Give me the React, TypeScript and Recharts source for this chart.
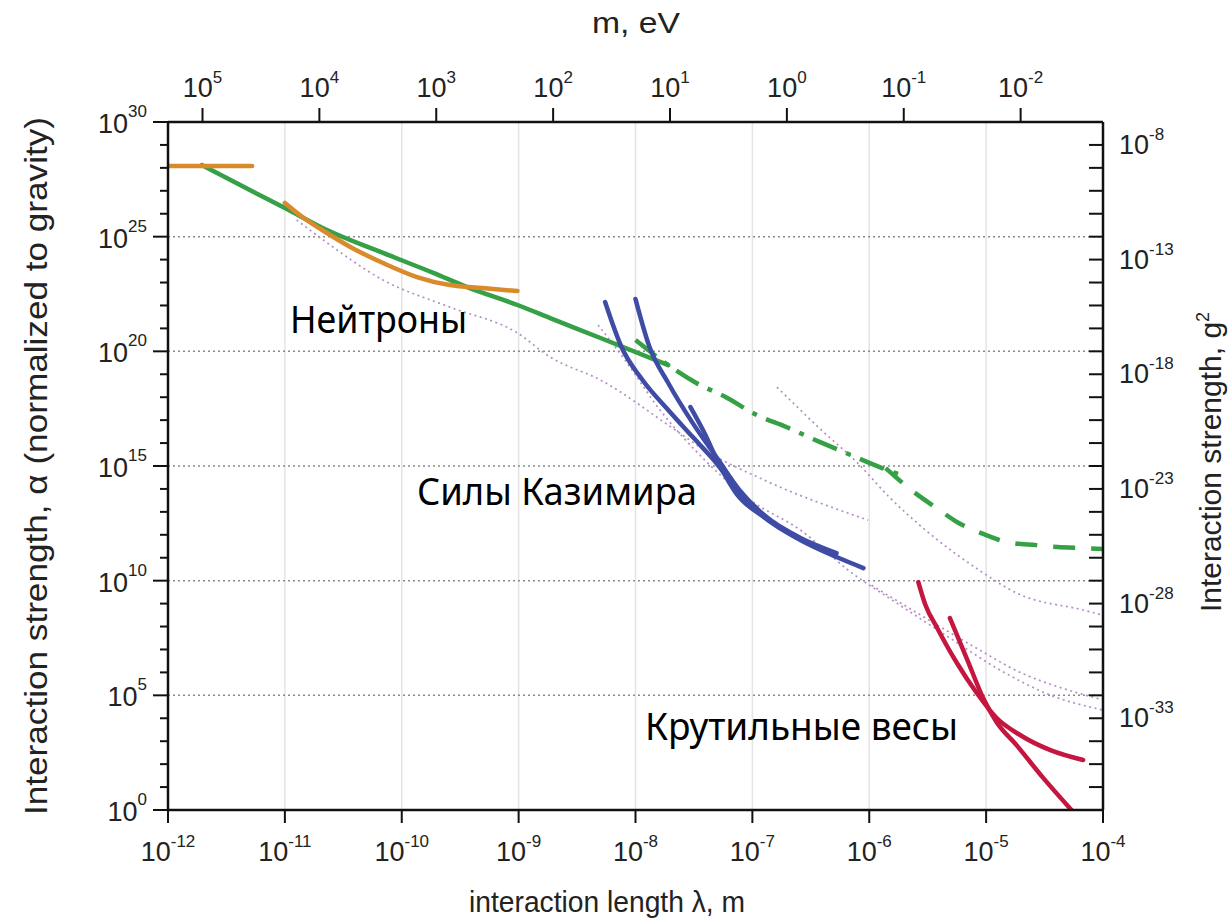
import { CartesianGrid, Line, LineChart, ReferenceLine, XAxis, YAxis } from "recharts";

// x = log10(lambda, m), y = log10(alpha)
const lambdaTicks = [-12, -11, -10, -9, -8, -7, -6, -5, -4];
const alphaTicks = Array.from({ length: 31 }, (_, i) => i);
const g2Ticks = Array.from({ length: 31 }, (_, i) => -37 + i);
const massExponents = [5, 4, 3, 2, 1, 0, -1, -2];
const dottedGrid = [5, 10, 15, 20, 25];

// hbar*c = 1.9733e-7 eV*m  ->  lambda = hbar*c / m
const HBARC_LOG = Math.log10(1.9733e-7);
const massTicks = massExponents.map((k) => HBARC_LOG - k);

const neutronFlat = [
  { x: -12, y: 28.08 },
  { x: -11.28, y: 28.08 },
];
const neutronCurve = [
  { x: -11.0, y: 26.47 },
  { x: -10.85, y: 25.86 },
  { x: -10.64, y: 25.16 },
  { x: -10.44, y: 24.55 },
  { x: -10.16, y: 23.85 },
  { x: -9.87, y: 23.24 },
  { x: -9.59, y: 22.89 },
  { x: -9.31, y: 22.76 },
  { x: -9.01, y: 22.63 },
];
const greenSolid = [
  { x: -11.71, y: 28.12 },
  { x: -11.3, y: 27.03 },
  { x: -11.0, y: 26.25 },
  { x: -10.64, y: 25.29 },
  { x: -10.16, y: 24.29 },
  { x: -9.73, y: 23.42 },
  { x: -9.44, y: 22.8 },
  { x: -9.01, y: 22.02 },
  { x: -8.73, y: 21.45 },
  { x: -8.3, y: 20.58 },
  { x: -7.72, y: 19.4 },
];
const greenDashDot = [
  { x: -8.0, y: 20.49 },
  { x: -7.72, y: 19.4 },
  { x: -7.48, y: 18.62 },
  { x: -7.23, y: 18.01 },
  { x: -6.96, y: 17.22 },
  { x: -6.71, y: 16.7 },
  { x: -6.42, y: 16.04 },
  { x: -6.2, y: 15.57 },
  { x: -5.89, y: 14.91 },
  { x: -5.68, y: 14.52 },
];
const greenDashed = [
  { x: -5.86, y: 14.91 },
  { x: -5.64, y: 13.95 },
  { x: -5.4, y: 13.08 },
  { x: -5.25, y: 12.56 },
  { x: -5.0, y: 11.99 },
  { x: -4.82, y: 11.68 },
  { x: -4.57, y: 11.55 },
  { x: -4.39, y: 11.47 },
  { x: -4.15, y: 11.42 },
  { x: -4.0, y: 11.38 },
];
const casimirA = [
  { x: -8.26, y: 22.15 },
  { x: -8.12, y: 20.19 },
  { x: -7.94, y: 18.75 },
  { x: -7.72, y: 17.44 },
  { x: -7.51, y: 16.26 },
  { x: -7.33, y: 15.26 },
  { x: -7.11, y: 13.82 },
  { x: -6.9, y: 12.77 },
  { x: -6.59, y: 11.77 },
  { x: -6.28, y: 11.03 },
  { x: -6.05, y: 10.55 },
];
const casimirB = [
  { x: -8.0, y: 22.28 },
  { x: -7.88, y: 20.19 },
  { x: -7.72, y: 18.62 },
  { x: -7.51, y: 16.87 },
  { x: -7.29, y: 15.26 },
  { x: -7.11, y: 13.95 },
  { x: -6.9, y: 12.86 },
  { x: -6.59, y: 11.86 },
];
const casimirC = [
  { x: -7.53, y: 17.57 },
  { x: -7.41, y: 16.44 },
  { x: -7.29, y: 15.13 },
  { x: -7.14, y: 13.82 },
  { x: -6.9, y: 12.77 },
  { x: -6.59, y: 11.86 },
  { x: -6.28, y: 11.2 },
];
const torsionA = [
  { x: -5.58, y: 9.94 },
  { x: -5.52, y: 8.95 },
  { x: -5.42, y: 7.95 },
  { x: -5.25, y: 6.41 },
  { x: -5.08, y: 5.1 },
  { x: -4.91, y: 4.01 },
  { x: -4.71, y: 3.27 },
  { x: -4.45, y: 2.61 },
  { x: -4.17, y: 2.18 },
];
const torsionB = [
  { x: -5.31, y: 8.37 },
  { x: -5.16, y: 6.54 },
  { x: -5.03, y: 4.93 },
  { x: -4.91, y: 3.83 },
  { x: -4.74, y: 2.83 },
  { x: -4.51, y: 1.39 },
  { x: -4.27, y: 0 },
];
const dottedUpper = [
  { x: -10.9, y: 25.73 },
  { x: -10.67, y: 24.85 },
  { x: -10.16, y: 23.11 },
  { x: -9.59, y: 21.93 },
  { x: -9.01, y: 20.8 },
  { x: -8.73, y: 19.75 },
  { x: -8.3, y: 18.75 },
  { x: -7.66, y: 16.57 },
  { x: -7.41, y: 15.7 },
  { x: -6.9, y: 14.39 },
  { x: -6.01, y: 12.64 },
];
const dottedCasimir = [
  { x: -8.32, y: 21.15 },
  { x: -8.09, y: 19.62 },
  { x: -7.79, y: 17.44 },
  { x: -7.45, y: 15.48 },
  { x: -7.02, y: 13.52 },
  { x: -6.59, y: 12.21 },
  { x: -6.16, y: 10.38 },
  { x: -5.74, y: 8.94 },
  { x: -5.31, y: 7.5 },
  { x: -4.88, y: 6.1 },
  { x: -4.45, y: 5.01 },
  { x: -4.0, y: 4.36 },
];
const dottedMid = [
  { x: -6.79, y: 18.44 },
  { x: -6.41, y: 16.57 },
  { x: -6.1, y: 15.13 },
  { x: -5.83, y: 13.65 },
  { x: -5.52, y: 12.21 },
  { x: -5.06, y: 10.46 },
  { x: -4.74, y: 9.46 },
  { x: -4.17, y: 8.72 },
  { x: -4.0, y: 8.5 },
];
const dottedLow = [
  { x: -5.98, y: 9.8 },
  { x: -5.56, y: 8.5 },
  { x: -5.13, y: 7.2 },
  { x: -4.7, y: 5.98 },
  { x: -4.36, y: 5.33 },
  { x: -4.0, y: 4.8 },
];

const ORANGE = "#d98a2b";
const GREEN = "#35a046";
const BLUE = "#3e4ca6";
const RED = "#c4163f";
const DOT = "#b48fc6";
const AXIS = "#111";
const LABEL = "#222";
const ARIAL = "'Liberation Sans', Arial, sans-serif";
const CALIBRI = "'Noto Sans', 'Open Sans', sans-serif";

function LeftTick(props: any) {
  const { x, y, payload } = props;
  const v = payload.value;
  const major = v % 5 === 0;
  return (
    <g>
      <line x1={x - (major ? 15 : 8)} x2={x} y1={y} y2={y} stroke={AXIS} strokeWidth={2} />
      {major && (
        <text x={x - 21} y={y + 11} textAnchor="end" fontFamily={ARIAL} fontSize={27} fill={LABEL}>
          10
          <tspan dy={-16} fontSize={17}>
            {v}
          </tspan>
        </text>
      )}
    </g>
  );
}

function RightTick(props: any) {
  const { x, y, payload } = props;
  const v = payload.value;
  const major = (v + 8) % 5 === 0;
  return (
    <g>
      <line x1={x - 14} x2={x} y1={y} y2={y} stroke={AXIS} strokeWidth={2} />
      {major && (
        <text x={x + 16} y={y + 9} textAnchor="start" fontFamily={ARIAL} fontSize={27} fill={LABEL}>
          10
          <tspan dy={-14} fontSize={17}>
            {v}
          </tspan>
        </text>
      )}
    </g>
  );
}

function BottomTick(props: any) {
  const { x, y, payload } = props;
  return (
    <g>
      <line x1={x} x2={x} y1={y} y2={y + 13} stroke={AXIS} strokeWidth={2} />
      <text x={x} y={y + 51} textAnchor="middle" fontFamily={ARIAL} fontSize={27} fill={LABEL}>
        10
        <tspan dy={-14} fontSize={17}>
          {payload.value}
        </tspan>
      </text>
    </g>
  );
}

function TopTick(props: any) {
  const { x, y, payload } = props;
  const k = Math.round(HBARC_LOG - payload.value);
  return (
    <g>
      <line x1={x} x2={x} y1={y - 14} y2={y} stroke={AXIS} strokeWidth={2} />
      <text x={x} y={y - 25} textAnchor="middle" fontFamily={ARIAL} fontSize={27} fill={LABEL}>
        10
        <tspan dy={-14} fontSize={17}>
          {k}
        </tspan>
      </text>
    </g>
  );
}

const solid = { strokeWidth: 4.5, dot: false, isAnimationActive: false, strokeLinecap: "round" as const };
const dotted = { strokeWidth: 1.7, dot: false, isAnimationActive: false, strokeDasharray: "2 3.5" };

export default function App() {
  return (
    <div style={{ position: "absolute", left: 0, top: 0, width: 1232, height: 923, background: "#fff" }}>
      <LineChart width={1232} height={923} margin={{ top: 62, right: 49, bottom: 53, left: 88 }}>
        <CartesianGrid horizontal={false} stroke="#e4e4e4" strokeWidth={1.5} />
        <XAxis
          dataKey="x"
          type="number"
          domain={[-12, -4]}
          ticks={lambdaTicks}
          interval={0}
          height={60}
          tickSize={0}
          tickMargin={0}
          tickLine={false}
          axisLine={{ stroke: AXIS, strokeWidth: 2.5 }}
          tick={BottomTick}
          allowDataOverflow
        />
        <XAxis
          xAxisId="top"
          orientation="top"
          dataKey="x"
          type="number"
          domain={[-12, -4]}
          ticks={massTicks}
          interval={0}
          height={60}
          tickSize={0}
          tickMargin={0}
          tickLine={false}
          axisLine={{ stroke: AXIS, strokeWidth: 2.5 }}
          tick={TopTick}
          allowDataOverflow
        />
        <YAxis
          type="number"
          domain={[0, 30]}
          ticks={alphaTicks}
          interval={0}
          width={80}
          tickSize={0}
          tickMargin={0}
          tickLine={false}
          axisLine={{ stroke: AXIS, strokeWidth: 2.5 }}
          tick={LeftTick}
          allowDataOverflow
        />
        <YAxis
          yAxisId="right"
          orientation="right"
          type="number"
          domain={[-37, -7]}
          ticks={g2Ticks}
          interval={0}
          width={80}
          tickSize={0}
          tickMargin={0}
          tickLine={false}
          axisLine={{ stroke: AXIS, strokeWidth: 2.5 }}
          tick={RightTick}
          allowDataOverflow
        />
        {dottedGrid.map((v) => (
          <ReferenceLine key={v} y={v} stroke="#8a8a8a" strokeWidth={1.5} strokeDasharray="2 3" />
        ))}

        <Line data={dottedUpper} dataKey="y" type="monotone" stroke={DOT} {...dotted} />
        <Line data={dottedCasimir} dataKey="y" type="monotone" stroke={DOT} {...dotted} />
        <Line data={dottedMid} dataKey="y" type="monotone" stroke={DOT} {...dotted} />
        <Line data={dottedLow} dataKey="y" type="monotone" stroke={DOT} {...dotted} />

        <Line data={greenSolid} dataKey="y" type="monotone" stroke={GREEN} {...solid} />
        <Line data={neutronFlat} dataKey="y" type="linear" stroke={ORANGE} {...solid} />
        <Line data={neutronCurve} dataKey="y" type="monotone" stroke={ORANGE} {...solid} />
        <Line data={greenDashDot} dataKey="y" type="monotone" stroke={GREEN} {...solid} strokeLinecap="butt" strokeDasharray="26 10 5 10" />
        <Line data={greenDashed} dataKey="y" type="monotone" stroke={GREEN} {...solid} strokeLinecap="butt" strokeDasharray="22 16" />
        <Line data={casimirA} dataKey="y" type="monotone" stroke={BLUE} {...solid} />
        <Line data={casimirB} dataKey="y" type="monotone" stroke={BLUE} {...solid} />
        <Line data={casimirC} dataKey="y" type="monotone" stroke={BLUE} {...solid} />
        <Line data={torsionA} dataKey="y" type="monotone" stroke={RED} {...solid} />
        <Line data={torsionB} dataKey="y" type="monotone" stroke={RED} {...solid} />
      </LineChart>

      <svg width={1232} height={923} style={{ position: "absolute", left: 0, top: 0, pointerEvents: "none" }}>
        <text x={636} y={33} textAnchor="middle" fontFamily={ARIAL} fontSize={30} fill={LABEL} textLength={88} lengthAdjust="spacingAndGlyphs">
          m, eV
        </text>
        <text x={607} y={912} textAnchor="middle" fontFamily={ARIAL} fontSize={30} fill={LABEL} textLength={276} lengthAdjust="spacingAndGlyphs">
          interaction length λ, m
        </text>
        <text
          transform="translate(47,466) rotate(-90)"
          textAnchor="middle"
          fontFamily={ARIAL}
          fontSize={31}
          fill={LABEL}
          textLength={698}
          lengthAdjust="spacingAndGlyphs"
        >
          Interaction strength, α (normalized to gravity)
        </text>
        <text transform="translate(1221,462) rotate(-90)" textAnchor="middle" fontFamily={ARIAL} fontSize={30} fill={LABEL}>
          Interaction strength, g
          <tspan dy={-12} fontSize={18}>
            2
          </tspan>
        </text>
        <text x={290} y={333} fontFamily={CALIBRI} fontSize={38} fill="#000" textLength={177} lengthAdjust="spacingAndGlyphs">
          Нейтроны
        </text>
        <text x={417} y={505} fontFamily={CALIBRI} fontSize={38} fill="#000" textLength={280} lengthAdjust="spacingAndGlyphs">
          Силы Казимира
        </text>
        <text x={645} y={740} fontFamily={CALIBRI} fontSize={38} fill="#000" textLength={313} lengthAdjust="spacingAndGlyphs">
          Крутильные весы
        </text>
      </svg>
    </div>
  );
}
